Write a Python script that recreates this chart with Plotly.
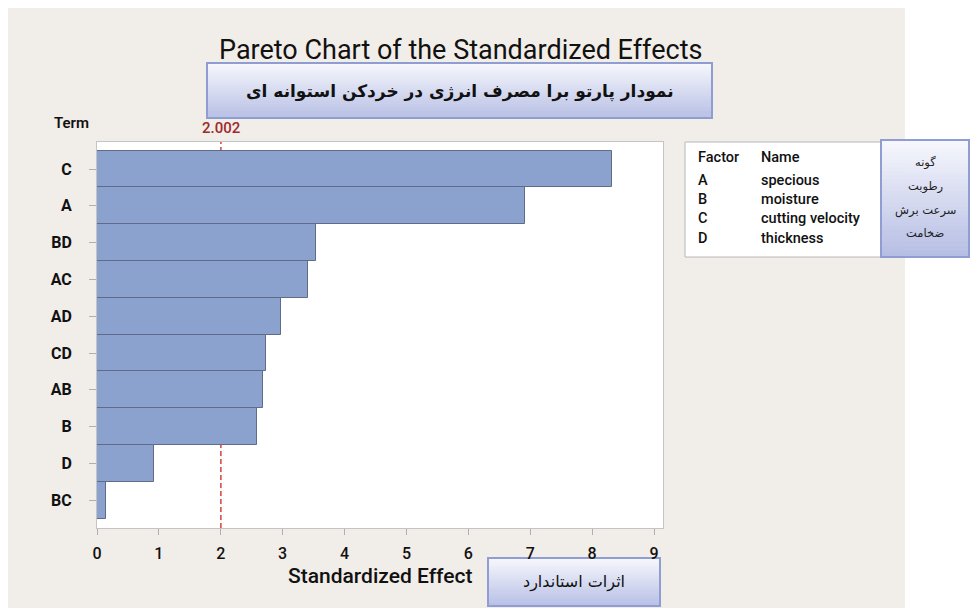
import plotly.graph_objects as go

# ---- data ----
terms = ["C", "A", "BD", "AC", "AD", "CD", "AB", "B", "D", "BC"]
effects = [8.32, 6.91, 3.54, 3.41, 2.98, 2.73, 2.68, 2.58, 0.92, 0.145]
ref_value = 2.002
x_ticks = [0, 1, 2, 3, 4, 5, 6, 7, 8, 9]
factors = ["A", "B", "C", "D"]
factor_names = ["specious", "moisture", "cutting velocity", "thickness"]
factor_names_fa = ["گونه", "رطوبت", "سرعت برش", "ضخامت"]
title_text = "Pareto Chart of the Standardized Effects"
subtitle_fa = "نمودار پارتو برا مصرف انرژی در خردکن استوانه ای"
xlabel = "Standardized Effect"
xlabel_fa = "اثرات استاندارد"

# ---- layout geometry (pixels) ----
W, H = 970, 608
L, R, T, B = 97, 663, 142, 528


def px(x):
    return (x - L) / (R - L)


def py(y):
    return (B - y) / (B - T)


LATIN = "Roboto, 'Open Sans', sans-serif"
ARAB = "'DejaVu Sans', sans-serif"

fig = go.Figure()
fig.add_trace(go.Bar(
    y=terms, x=effects, orientation="h", width=1,
    marker=dict(color="#8aa2cd", line=dict(color="#5f6c88", width=1)),
    hoverinfo="x+y", showlegend=False,
))

shapes = []
# beige panel
shapes.append(dict(type="rect", xref="paper", yref="paper", layer="below",
                   x0=px(8), x1=px(905), y0=py(610), y1=py(8),
                   fillcolor="#f1ede8", line=dict(width=0)))
# white plot area
shapes.append(dict(type="rect", xref="paper", yref="paper", layer="below",
                   x0=0, x1=1, y0=0, y1=1, fillcolor="white", line=dict(width=0)))
# reference line
shapes.append(dict(type="line", xref="x", yref="paper", layer="below",
                   x0=ref_value, x1=ref_value, y0=0, y1=1,
                   line=dict(color="#d8403a", width=1.5, dash="5px,3px")))
# factor legend box
shapes.append(dict(type="rect", xref="paper", yref="paper", layer="below",
                   x0=px(685), x1=px(882), y0=py(257), y1=py(142),
                   fillcolor="white", line=dict(color="#b8b8b8", width=1)))


def grad_box(x0, x1, y0, y1, top, bottom, n=30):
    def mix(a, b, t):
        return tuple(int(round(a[i] + (b[i] - a[i]) * t)) for i in range(3))
    h = (y1 - y0) / n
    for i in range(n):
        t = i / (n - 1)
        c = mix(top, bottom, t)
        shapes.append(dict(type="rect", xref="paper", yref="paper", layer="below",
                           x0=px(x0), x1=px(x1), y0=py(y0 + (i + 1) * h + 0.5), y1=py(y0 + i * h),
                           fillcolor="rgb(%d,%d,%d)" % c, line=dict(width=0)))
    shapes.append(dict(type="rect", xref="paper", yref="paper", layer="below",
                       x0=px(x0), x1=px(x1), y0=py(y1), y1=py(y0),
                       fillcolor="rgba(0,0,0,0)", line=dict(color="#909dd2", width=2)))


grad_box(207, 712, 63, 118, (246, 247, 252), (184, 192, 229))
grad_box(881, 969, 140, 257, (246, 247, 252), (182, 190, 228))
grad_box(488, 660, 558, 606, (246, 247, 252), (184, 192, 230))

ann = []


def label(text, x, y, size, family=LATIN, color="#111", weight="normal", xanchor="center", xref="paper"):
    ann.append(dict(text=text, x=x, y=y, xref=xref, yref="paper", xanchor=xanchor, yanchor="middle",
                    showarrow=False, font=dict(family=family, size=size, color=color, weight=weight)))


label(title_text, px(460), py(50), 27)
label(subtitle_fa, px(460), py(91), 17, family=ARAB, weight="bold")
label("Term", px(52), py(123), 15, weight=600, xanchor="left")
label("2.002", ref_value, py(128), 15, color="#9e2a2b", weight=500, xref="x")
label(xlabel, px(380), py(576), 21, weight=500)
label(xlabel_fa, px(574), py(582), 16, family=ARAB)

# factor table
rows_y = [157, 180, 199, 218, 238]
label("Factor", px(696), py(rows_y[0]), 14.5, weight=500, xanchor="left")
label("Name", px(759), py(rows_y[0]), 14.5, weight=500, xanchor="left")
for f, n, yy in zip(factors, factor_names, rows_y[1:]):
    label(f, px(696), py(yy), 14.5, weight=500, xanchor="left")
    label(n, px(759), py(yy), 14.5, weight=500, xanchor="left")
for t, yy in zip(factor_names_fa, [162, 186, 210, 233]):
    label(t, px(925), py(yy), 11.5, family=ARAB, color="#222")

fig.update_layout(
    width=W, height=H,
    margin=dict(l=L, r=W - R, t=T, b=H - B, pad=0),
    paper_bgcolor="white", plot_bgcolor="white",
    shapes=shapes, annotations=ann,
    bargap=0,
    xaxis=dict(range=[0, (R - L) / 61.89], tickmode="array", tickvals=x_ticks,
               ticks="outside", ticklen=6, tickcolor="#b0b0b0", showgrid=False, zeroline=False,
               showline=True, linecolor="#c4c4c4", linewidth=1, mirror=True,
               tickfont=dict(family=LATIN, size=16, color="#111", weight=500), ticklabelstandoff=5),
    yaxis=dict(categoryorder="array", categoryarray=terms, range=[9.753, -0.736],
               ticks="outside", ticklen=7, tickcolor="#b0b0b0", showgrid=False, zeroline=False,
               showline=True, linecolor="#c4c4c4", linewidth=1, mirror=True,
               tickfont=dict(family=LATIN, size=16, color="#111", weight="bold"), ticklabelstandoff=14),
    font=dict(family=LATIN),
)

fig.write_html("out.html", config={"displayModeBar": False},
               post_script="document.body.style.margin='0';")
